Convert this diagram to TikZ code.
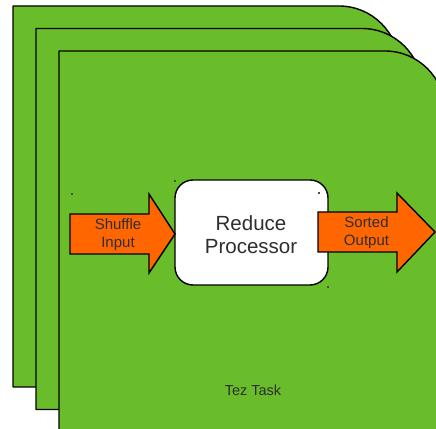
\documentclass[tikz,border=0pt]{standalone}
\usepackage{fontspec}
\setmainfont{Liberation Sans}
\definecolor{cardgreen}{HTML}{6ABD2A}
\definecolor{arroworange}{HTML}{FF6600}
\definecolor{txt}{HTML}{2E2E2E}
\begin{document}
\begin{tikzpicture}[x=1pt,y=1pt,
  card/.style={fill=cardgreen,draw=black,line width=1.4pt,line join=round},
  flow/.style={fill=arroworange,draw=black,line width=1.4pt,line join=miter},
  procbox/.style={fill=white,draw=black,line width=1.4pt,rounded corners=18pt},
  lbl/.style={text=txt,align=center,inner sep=0pt},
  speck/.style={fill=black!70,inner sep=0pt,minimum size=1.6pt}]
\useasboundingbox (0,0) rectangle (436,428);
\clip (0,0) rectangle (436,428);
% stacked cards
\draw[card] (13,41) -- (13,422) -- (339,422) arc[start angle=90,end angle=0,radius=60] -- (399,41) -- cycle;
\draw[card] (36,18.5) -- (36,399.5) -- (362,399.5) arc[start angle=90,end angle=0,radius=60] -- (422,18.5) -- cycle;
\draw[card] (59,-10) -- (59,377) -- (385,377) arc[start angle=90,end angle=0,radius=60] -- (445,-10) -- cycle;
% processor
\draw[procbox] (175,143) rectangle (328,248);
\node[lbl,font=\fontsize{20.5}{23}\selectfont] (proc) at (251,193.5) {Reduce\\Processor};
% input arrow
\draw[flow] (70,174) -- (70,214) -- (149,214) -- (149,234) -- (175,194) -- (149,155) -- (149,174) -- cycle;
\node[lbl,font=\fontsize{15}{18}\selectfont] (in) at (118,193.5) {Shuffle\\Input};
% output arrow
\draw[flow] (318,176) -- (318,216) -- (397,216) -- (397,235) -- (435,196) -- (397,156) -- (397,176) -- cycle;
\node[lbl,font=\fontsize{15}{17.7}\selectfont] (out) at (366.5,195.5) {Sorted\\Output};
% task label
\node[lbl,font=\fontsize{14.5}{16}\selectfont] (task) at (253,37.5) {Tez Task};
% small specks
\node[speck] (s1) at (72,234) {};
\node[speck] (s2) at (175,247) {};
\node[speck] (s3) at (319,235) {};
\node[speck] (s4) at (328,141) {};
\end{tikzpicture}
\end{document}
